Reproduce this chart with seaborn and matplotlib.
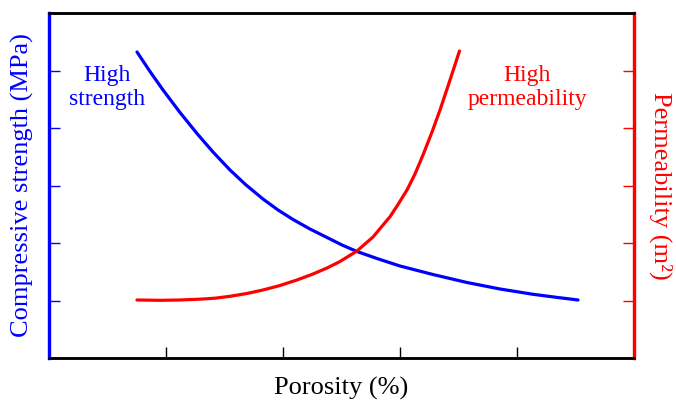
import matplotlib
matplotlib.use("Agg")
import matplotlib.pyplot as plt
import seaborn as sns
import pandas as pd

# Data (arbitrary units)
strength_x = [1.504, 1.726, 1.949, 2.239, 2.530, 2.803, 3.094, 3.368, 3.658, 3.915, 4.171, 4.462,
              4.752, 5.009, 5.265, 5.607, 6.000, 6.564, 7.145, 7.709, 8.274, 8.667, 9.043]
strength_y = [5.322, 4.983, 4.661, 4.270, 3.904, 3.583, 3.270, 3.009, 2.765, 2.574, 2.409, 2.243,
              2.096, 1.965, 1.852, 1.730, 1.600, 1.452, 1.313, 1.200, 1.108, 1.056, 1.009]

perm_x = [1.504, 1.897, 2.239, 2.581, 2.838, 3.094, 3.385, 3.658, 3.949, 4.239, 4.513, 4.752,
          4.974, 5.265, 5.538, 5.829, 5.966, 6.120, 6.256, 6.393, 6.547, 6.684, 6.855, 7.017]
perm_y = [1.009, 1.003, 1.009, 1.023, 1.040, 1.073, 1.122, 1.183, 1.261, 1.357, 1.461, 1.565,
          1.678, 1.861, 2.104, 2.457, 2.670, 2.922, 3.200, 3.530, 3.930, 4.313, 4.835, 5.339]

x_ticks = [2, 4, 6, 8]
y_ticks = [1, 2, 3, 4, 5]

x_label = "Porosity (%)"
left_label = "Compressive strength (MPa)"
right_label = "Permeability (m²)"
left_note = "High\nstrength"
right_note = "High\npermeability"

BLUE = "#0000FF"
RED = "#FF0000"

sns.set_style("white")
plt.rcParams["font.family"] = ["Liberation Serif", "DejaVu Serif"]

fig = plt.figure(figsize=(6.76, 4.0), dpi=100)
ax = fig.add_axes([49 / 676, 42 / 400, 585 / 676, 345 / 400])
ax2 = ax.twinx()

df_s = pd.DataFrame({"x": strength_x, "y": strength_y})
df_p = pd.DataFrame({"x": perm_x, "y": perm_y})
sns.lineplot(data=df_s, x="x", y="y", ax=ax, color=BLUE, linewidth=2.3, sort=False,
             solid_joinstyle="round")
sns.lineplot(data=df_p, x="x", y="y", ax=ax2, color=RED, linewidth=2.3, sort=False,
             solid_joinstyle="round")

for a in (ax, ax2):
    a.set_xlim(0, 10)
    a.set_ylim(0, 6)
    a.set_xticks(x_ticks)
    a.set_yticks(y_ticks)
    a.set_xticklabels([])
    a.set_yticklabels([])

ax.tick_params(axis="x", direction="in", length=8, width=1.0, color="black", bottom=True)
ax.tick_params(axis="y", direction="in", length=8, width=1.0, color=BLUE, left=True)
ax2.tick_params(axis="y", direction="in", length=8, width=1.0, color=RED, right=True)

for a in (ax, ax2):
    a.spines["top"].set_color("black")
    a.spines["bottom"].set_color("black")
    a.spines["top"].set_linewidth(1.8)
    a.spines["bottom"].set_linewidth(1.8)
    a.spines["left"].set_color(BLUE)
    a.spines["left"].set_linewidth(2.3)
    a.spines["right"].set_color(RED)
    a.spines["right"].set_linewidth(2.3)

ax.set_xlabel(x_label, fontsize=19, color="black")
ax.xaxis.set_label_coords(0.5, -0.087)
ax.xaxis.label.set_va("center")

ax.set_ylabel(left_label, fontsize=19, color=BLUE)
ax.yaxis.set_label_coords(-0.046, 0.5)
ax.yaxis.label.set_va("center")
ax.yaxis.label.set_ha("center")

ax2.set_ylabel(right_label, fontsize=19, color=RED, rotation=270)
ax2.yaxis.set_label_coords(1.046, 0.5)
ax2.yaxis.label.set_va("center")
ax2.yaxis.label.set_ha("center")

ax.text(0.99, 4.71, left_note, color=BLUE, fontsize=17, ha="center", va="center", linespacing=1.2)
ax2.text(8.17, 4.71, right_note, color=RED, fontsize=17, ha="center", va="center", linespacing=1.2)

fig.savefig("out.png", dpi=100)
